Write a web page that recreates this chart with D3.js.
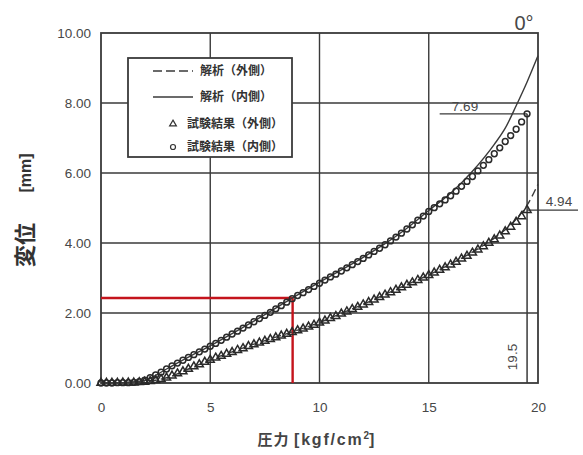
<!DOCTYPE html>
<html>
<head>
<meta charset="utf-8">
<script src="https://cdn.jsdelivr.net/npm/d3@7"></script>
<style>
  html, body { margin: 0; padding: 0; background: #fff; }
  svg { display: block; }
</style>
</head>
<body>
<svg id="chart" width="583" height="455"></svg>
<script>
// ---------------- data ----------------
const xTicks = [0, 5, 10, 15, 20];
const yTicks = [0, 2, 4, 6, 8, 10];
const xGrid = [5, 10, 15];
const yGrid = [2, 4, 6, 8];

const legendLabels = ["解析（外側）", "解析（内側）", "試験結果（外側）", "試験結果（内側）"];

// test pressures (kgf/cm²)
const testPressure = [
  0, 0.25, 0.5, 0.75, 1, 1.25, 1.5, 1.75, 2, 2.25, 2.5, 2.75, 3, 3.25, 3.5, 3.75,
  4, 4.25, 4.5, 4.75, 5, 5.25, 5.5, 5.75, 6, 6.25, 6.5, 6.75, 7, 7.25, 7.5, 7.75,
  8, 8.25, 8.5, 8.75, 9, 9.25, 9.5, 9.75, 10, 10.25, 10.5, 10.75, 11, 11.25, 11.5, 11.75,
  12, 12.25, 12.5, 12.75, 13, 13.25, 13.5, 13.75, 14, 14.25, 14.5, 14.75, 15, 15.25, 15.5, 15.75,
  16, 16.25, 16.5, 16.75, 17, 17.25, 17.5, 17.75, 18, 18.25, 18.5, 18.75, 19, 19.25, 19.5
];
// 試験結果（内側） displacement (mm)
const testInner = [
  0.00, 0.00, 0.00, 0.01, 0.01, 0.01, 0.02, 0.04, 0.08, 0.15, 0.23, 0.31, 0.40, 0.49, 0.57, 0.65,
  0.73, 0.81, 0.89, 0.97, 1.05, 1.13, 1.22, 1.31, 1.40, 1.48, 1.57, 1.66, 1.75, 1.84, 1.93, 2.02,
  2.12, 2.21, 2.31, 2.41, 2.50, 2.58, 2.67, 2.76, 2.85, 2.94, 3.03, 3.11, 3.20, 3.29, 3.38, 3.47,
  3.56, 3.66, 3.76, 3.85, 3.95, 4.06, 4.17, 4.28, 4.40, 4.52, 4.65, 4.77, 4.90, 5.01, 5.12, 5.23,
  5.35, 5.48, 5.62, 5.76, 5.90, 6.06, 6.22, 6.38, 6.55, 6.72, 6.90, 7.07, 7.25, 7.46, 7.69
];
// 試験結果（外側） displacement (mm)
const testOuter = [
  0.00, 0.00, 0.00, 0.00, 0.01, 0.01, 0.01, 0.02, 0.03, 0.05, 0.08, 0.11, 0.15, 0.21, 0.27, 0.33,
  0.40, 0.47, 0.53, 0.60, 0.66, 0.72, 0.77, 0.83, 0.88, 0.94, 0.99, 1.05, 1.10, 1.15, 1.20, 1.25,
  1.30, 1.35, 1.40, 1.45, 1.50, 1.55, 1.61, 1.66, 1.72, 1.78, 1.85, 1.91, 1.98, 2.04, 2.11, 2.17,
  2.24, 2.31, 2.38, 2.45, 2.52, 2.59, 2.66, 2.73, 2.80, 2.87, 2.94, 3.01, 3.08, 3.15, 3.23, 3.30,
  3.38, 3.46, 3.55, 3.63, 3.72, 3.81, 3.90, 4.00, 4.10, 4.21, 4.33, 4.46, 4.60, 4.76, 4.94
];

// analysis curves
const anaPressure = [0, 1, 2, 2.5, 3, 4, 5, 6, 7, 8, 9, 10, 11, 12, 13, 14, 15, 16, 17, 18, 18.5, 19, 19.5, 20];
const anaInner = [0, 0.01, 0.07, 0.22, 0.40, 0.74, 1.06, 1.41, 1.77, 2.14, 2.52, 2.88, 3.23, 3.59, 3.98, 4.42, 4.93, 5.42, 6.05, 6.82, 7.28, 7.92, 8.60, 9.35];
const anaOuter = [0, 0.01, 0.03, 0.08, 0.15, 0.40, 0.66, 0.89, 1.11, 1.31, 1.51, 1.73, 1.99, 2.25, 2.53, 2.81, 3.09, 3.40, 3.74, 4.14, 4.38, 4.68, 5.08, 5.68];

// annotations
const endPressure = 19.5;
const endValues = [7.69, 4.94];
const endLabels = ["7.69", "4.94", "19.5"];
const redPoint = [8.77, 2.43];
const angleLabel = "0°";

// ---------------- layout ----------------
const svg = d3.select("#chart");
const L = 101, R = 538, T = 33, B = 383;
const x = d3.scaleLinear().domain([0, 20]).range([L, R]);
const y = d3.scaleLinear().domain([0, 10]).range([B, T]);

const ink = "#3a3a3a";
const txt = "#474747";
const numFont = "'Liberation Sans', Arial, sans-serif";
const cjkFont = "'Noto Sans CJK JP', 'Noto Sans', sans-serif";

// grid
svg.append("g").selectAll("line").data(xGrid).join("line")
  .attr("x1", d => x(d)).attr("x2", d => x(d)).attr("y1", T).attr("y2", B)
  .attr("stroke", ink).attr("stroke-width", 1.4);
svg.append("g").selectAll("line").data(yGrid).join("line")
  .attr("x1", L).attr("x2", R).attr("y1", d => y(d)).attr("y2", d => y(d))
  .attr("stroke", ink).attr("stroke-width", 1.4);

// axes (labels only)
const ya = svg.append("g").attr("transform", `translate(${L},0)`)
  .call(d3.axisLeft(y).tickValues(yTicks).tickFormat(d3.format(".2f")).tickSize(0).tickPadding(10));
ya.select(".domain").remove();
ya.selectAll("text").attr("font-family", numFont).attr("font-size", 13.5).attr("fill", txt);

const xa = svg.append("g").attr("transform", `translate(0,${B})`)
  .call(d3.axisBottom(x).tickValues(xTicks).tickFormat(d3.format("d")).tickSize(0).tickPadding(19));
xa.select(".domain").remove();
xa.selectAll("text").attr("font-family", numFont).attr("font-size", 13.5).attr("fill", txt);

// frame
svg.append("rect").attr("x", L).attr("y", T).attr("width", R - L).attr("height", B - T)
  .attr("fill", "none").attr("stroke", ink).attr("stroke-width", 1.8);

// annotation lines
svg.append("line").attr("x1", x(15.5)).attr("x2", x(endPressure)).attr("y1", y(endValues[0])).attr("y2", y(endValues[0]))
  .attr("stroke", ink).attr("stroke-width", 1.3);
svg.append("line").attr("x1", x(endPressure)).attr("x2", x(endPressure)).attr("y1", y(endValues[0])).attr("y2", B)
  .attr("stroke", ink).attr("stroke-width", 1.5);
svg.append("line").attr("x1", x(endPressure)).attr("x2", 578).attr("y1", y(endValues[1])).attr("y2", y(endValues[1]))
  .attr("stroke", ink).attr("stroke-width", 1.3);

svg.append("text").attr("x", 465).attr("y", 111).attr("text-anchor", "middle")
  .attr("font-family", numFont).attr("font-size", 13.5).attr("fill", txt).text(endLabels[0]);
svg.append("text").attr("x", 559).attr("y", 206).attr("text-anchor", "middle")
  .attr("font-family", numFont).attr("font-size", 13.5).attr("fill", txt).text(endLabels[1]);
svg.append("text").attr("transform", `translate(517,357) rotate(-90)`).attr("text-anchor", "middle")
  .attr("font-family", numFont).attr("font-size", 13.5).attr("fill", txt).text(endLabels[2]);

// red guide lines
svg.append("path")
  .attr("d", `M${x(0)},${y(redPoint[1])}H${x(redPoint[0])}V${y(0)}`)
  .attr("fill", "none").attr("stroke", "#c4141c").attr("stroke-width", 2.4);

// analysis lines
const lineGen = d3.line().x(d => x(d[0])).y(d => y(d[1])).curve(d3.curveMonotoneX);
svg.append("path").datum(anaPressure.map((p, i) => [p, anaInner[i]]))
  .attr("d", lineGen).attr("fill", "none").attr("stroke", ink).attr("stroke-width", 1.4);
svg.append("path").datum(anaPressure.map((p, i) => [p, anaOuter[i]]))
  .attr("d", lineGen).attr("fill", "none").attr("stroke", ink).attr("stroke-width", 1.4)
  .attr("stroke-dasharray", "8,4");

// test markers
const tri = d3.symbol().type(d3.symbolTriangle).size(28);
svg.append("g").selectAll("path").data(testPressure.map((p, i) => [p, testOuter[i]])).join("path")
  .attr("transform", d => `translate(${x(d[0])},${y(d[1])})`)
  .attr("d", tri).attr("fill", "none").attr("stroke", "#2a2a2a").attr("stroke-width", 1.5);
svg.append("g").selectAll("circle").data(testPressure.map((p, i) => [p, testInner[i]])).join("circle")
  .attr("cx", d => x(d[0])).attr("cy", d => y(d[1])).attr("r", 2.9)
  .attr("fill", "none").attr("stroke", "#2a2a2a").attr("stroke-width", 1.5);

// 0° label
svg.append("text").attr("x", 524).attr("y", 30).attr("text-anchor", "middle")
  .attr("font-family", numFont).attr("font-size", 20).attr("fill", txt).text(angleLabel);

// legend
const lg = svg.append("g");
lg.append("rect").attr("x", 128).attr("y", 58).attr("width", 164).attr("height", 99)
  .attr("fill", "#fff").attr("stroke", ink).attr("stroke-width", 1.8);
const rowsY = [71, 97, 124, 147];
lg.append("line").attr("x1", 153).attr("x2", 193).attr("y1", rowsY[0]).attr("y2", rowsY[0])
  .attr("stroke", ink).attr("stroke-width", 1.4).attr("stroke-dasharray", "9,4");
lg.append("line").attr("x1", 153).attr("x2", 193).attr("y1", rowsY[1]).attr("y2", rowsY[1])
  .attr("stroke", ink).attr("stroke-width", 1.4);
lg.append("path").attr("transform", `translate(173,${rowsY[2]})`).attr("d", d3.symbol().type(d3.symbolTriangle).size(20))
  .attr("fill", "none").attr("stroke", "#333").attr("stroke-width", 1.2);
lg.append("circle").attr("cx", 173).attr("cy", rowsY[3]).attr("r", 2.5)
  .attr("fill", "none").attr("stroke", "#333").attr("stroke-width", 1.2);
const lgX = [200, 200, 187, 187];
lg.selectAll("text.lt").data(legendLabels).join("text").attr("class", "lt")
  .attr("x", (d, i) => lgX[i]).attr("y", (d, i) => rowsY[i]).attr("dy", "0.36em")
  .attr("font-family", cjkFont).attr("font-size", 12).attr("font-weight", "bold").attr("fill", "#333")
  .text(d => d);

// axis titles
svg.append("text").attr("transform", "translate(25,245) rotate(-90)").attr("text-anchor", "middle").attr("dy", "0.36em")
  .attr("font-family", cjkFont).attr("font-size", 22).attr("font-weight", "bold").attr("fill", "#333").text("変位");
svg.append("text").attr("transform", "translate(25,173) rotate(-90)").attr("text-anchor", "middle").attr("dy", "0.36em")
  .attr("font-family", numFont).attr("font-size", 16).attr("font-weight", "bold").attr("fill", "#333").text("[mm]");

const xt = svg.append("text").attr("x", 316).attr("y", 445).attr("text-anchor", "middle")
  .attr("font-family", cjkFont).attr("font-size", 15).attr("font-weight", "bold").attr("fill", "#444");
xt.append("tspan").attr("letter-spacing", 1).text("圧力 ");
xt.append("tspan").attr("font-family", numFont).attr("font-size", 16).attr("letter-spacing", 1.8).text("[kgf/cm");
xt.append("tspan").attr("font-family", numFont).attr("font-size", 10).attr("dy", -6).text("2");
xt.append("tspan").attr("font-family", numFont).attr("font-size", 16).attr("dy", 6).text("]");
</script>
</body>
</html>
